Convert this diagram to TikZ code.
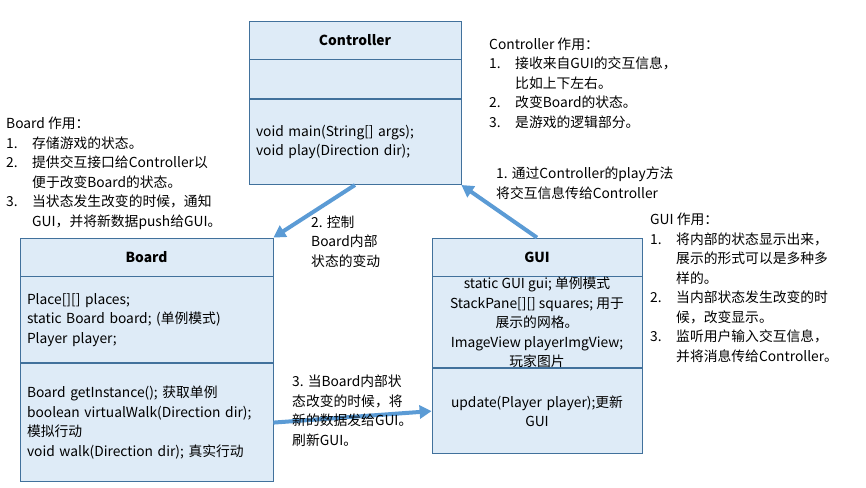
\documentclass[tikz,border=0pt]{standalone}
\usepackage{fontspec}
\setmainfont{Noto Sans CJK SC}
\usepackage{xcolor}
\usepackage{tikz}
\usetikzlibrary{arrows.meta,positioning}

\definecolor{boxfill}{RGB}{222,235,247}
\definecolor{boxline}{RGB}{65,113,156}
\definecolor{linkblue}{RGB}{91,155,213}
\newcommand{\bodyfont}{\fontsize{13.8pt}{19.5pt}\selectfont\lineskiplimit=-20pt}
\newcommand{\numitem}[1]{\makebox[26pt][l]{#1}}
\newcommand{\hangline}{\hspace*{26pt}}

\begin{document}
\begin{tikzpicture}[x=1pt,y=-1pt,font=\bodyfont]
            \tikzstyle{cls}=[draw=boxline, fill=boxfill, line width=0.8pt, inner xsep=7pt, inner ysep=0pt]
            \tikzstyle{title}=[cls, font=\bodyfont\bfseries]
            \tikzstyle{note}=[inner sep=0pt, align=left, anchor=base west]
            \tikzstyle{link}=[draw=linkblue, line width=4pt, -{Triangle[length=12pt,width=13pt]}]
            \useasboundingbox (0,0) rectangle (866,487);
            \node [title, minimum width=212pt, minimum height=38pt] (ctrlName) at (355,40) {Controller};
            \node [cls, minimum width=212pt, minimum height=39pt, below=0pt of ctrlName] (ctrlAttr) {};
            \node [cls, text width=198pt, minimum height=85pt, align=left, below=0pt of ctrlAttr] (ctrlOps) {void main(String[] args);\\void play(Direction dir);};
            \node [title, minimum width=253pt, minimum height=38pt] (boardName) at (146.5,257) {Board};
            \node [cls, text width=239pt, minimum height=86pt, align=left, below=0pt of boardName] (boardAttr) {Place[][] places;\\static Board board; (单例模式)\\Player player;};
            \node [cls, text width=239pt, minimum height=118pt, align=left, below=0pt of boardAttr] (boardOps) {Board getInstance(); 获取单例\\boolean virtualWalk(Direction dir);\\模拟行动\\void walk(Direction dir); 真实行动};
            \node [title, minimum width=210pt, minimum height=38pt] (guiName) at (537,257) {GUI};
            \node [cls, minimum width=210pt, minimum height=91pt, below=0pt of guiName,
                   label={[align=center]center:{static GUI gui; 单例模式\\StackPane[][] squares; 用于\\展示的网格。\\ImageView playerImgView;\\玩家图片}}] (guiAttr) {};
            \node [cls, text width=196pt, minimum height=85pt, align=center, below=0pt of guiAttr] (guiOps) {update(Player player);更新\\GUI};
            \draw [link] (ctrlOps.south) -- (boardName.north east);
            \draw [link] (guiName.north) -- (ctrlOps.south east);
            \draw [link] (boardOps.east) -- (guiOps.west);
            \node [note] (ctrlNote) at (489,127) {Controller 作用：\\\numitem{1.}接收来自GUI的交互信息，\\\hangline 比如上下左右。\\\numitem{2.}改变Board的状态。\\\numitem{3.}是游戏的逻辑部分。};
            \node [note] (boardNote) at (6,226) {Board 作用：\\\numitem{1.}存储游戏的状态。\\\numitem{2.}提供交互接口给Controller以\\\hangline 便于改变Board的状态。\\\numitem{3.}当状态发生改变的时候，通知\\\hangline GUI，并将新数据push给GUI。};
            \node [note] (guiNote) at (650,361) {GUI 作用：\\\numitem{1.}将内部的状态显示出来，\\\hangline 展示的形式可以是多种多\\\hangline 样的。\\\numitem{2.}当内部状态发生改变的时\\\hangline 候，改变显示。\\\numitem{3.}监听用户输入交互信息，\\\hangline 并将消息传给Controller。};
            \node [note] (playNote) at (496,198) {1. 通过Controller的play方法\\将交互信息传给Controller};
            \node [note] (ctrlLinkNote) at (311,266) {2. 控制\\Board内部\\状态的变动};
            \node [note] (updateNote) at (292,445) {3. 当Board内部状\\态改变的时候，将\\新的数据发给GUI。\\刷新GUI。};
\end{tikzpicture}
\end{document}
